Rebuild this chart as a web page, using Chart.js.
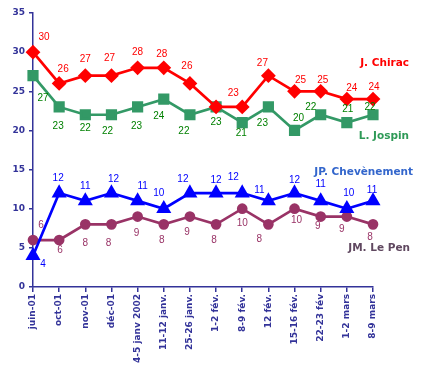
<!DOCTYPE html>
<html>
<head>
<meta charset="utf-8">
<script src="https://cdn.jsdelivr.net/npm/chart.js@4.4.1/dist/chart.umd.min.js"></script>
<style>
  body { margin: 0; background: #fff; }
  #wrap { width: 421px; height: 367px; position: relative; }
</style>
</head>
<body>
<div id="wrap"><canvas id="my-chart"></canvas></div>
<script>
'use strict';

// categories (poll dates)
let pollDates = ['juin-01', 'oct-01', 'nov-01', 'déc-01', '4-5 janv 2002', '11-12 janv.', '25-26 janv.',
  '1-2 fév.', '8-9 fév.', '12 fév.', '15-16 fév.', '22-23 fév', '1-2 mars', '8-9 mars'];

// series values (%)
let chiracVotes = [30, 26, 27, 27, 28, 28, 26, 23, 23, 27, 25, 25, 24, 24];
let jospinVotes = [27, 23, 22, 22, 23, 24, 22, 23, 21, 23, 20, 22, 21, 22];
let chevenementVotes = [4, 12, 11, 12, 11, 10, 12, 12, 12, 11, 12, 11, 10, 11];
let lePenVotes = [6, 6, 8, 8, 9, 8, 9, 8, 10, 8, 10, 9, 9, 8];

// y axis ticks
let yTicks = [0, 5, 10, 15, 20, 25, 30, 35];

const axisColor = '#333399';

// where each value label sits relative to its point [dx, dy] (null = no label)
let chiracLabelPos = [[11,-15],[4,-14],[0,-16],[-2,-17],[0,-16],[-2,-14],[-3,-17],null,[-9,-14],[-6,-12],[6,-11],[2,-11],[5,-11],[1,-12]];
let jospinLabelPos = [[10,23],[-1,19],[0,13],[-4,16],[-1,19],[-5,17],[-6,16],[0,15],[-1,11],[-6,16],[4,-12],[-10,-8],[1,-13],[-3,-8]];
let chevLabelPos = [[10,9],[-1,-15],[0,-15],[2,-14],[5,-15],[-5,-15],[-7,-14],[0,-13],[-9,-16],[-9,-11],[0,-13],[0,-17],[2,-15],[-1,-11]];
let lePenLabelPos = [[8,-15],[1,10],[0,19],[-3,19],[-1,17],[-2,16],[-3,16],[-2,16],[0,15],[-9,15],[2,12],[-3,10],[-5,13],[-3,13]];

// draws the value next to every point, plus the series name on the right
const valueLabels = {
  id: 'valueLabels',
  afterDatasetsDraw(chart) {
    let ctx = chart.ctx;
    let yScale = chart.scales.y;
    ctx.save();
    ctx.textAlign = 'center';
    ctx.textBaseline = 'middle';
    chart.data.datasets.forEach((ds, d) => {
      let meta = chart.getDatasetMeta(d);
      ctx.font = '10px "Liberation Sans", Arial, sans-serif';
      ctx.fillStyle = ds.labelColor;
      meta.data.forEach((pt, i) => {
        let off = ds.labelPos[i];
        if (!off) return;
        ctx.fillText(String(ds.data[i]), pt.x + off[0], pt.y + off[1]);
      });
      // series name
      ctx.font = 'bold 10.5px "DejaVu Sans", Verdana, sans-serif';
      ctx.fillStyle = ds.nameColor;
      ctx.textAlign = 'right';
      ctx.fillText(ds.label, chart.chartArea.right + ds.nameDx, yScale.getPixelForValue(ds.nameAt));
      ctx.textAlign = 'center';
    });
    ctx.restore();
  }
};

let ctx = document.getElementById('my-chart');

let chartObject = {
  type: 'line',
  data: {
    labels: pollDates,
    datasets: [
      {
        label: 'J. Chirac',
        data: chiracVotes,
        borderColor: '#ff0000',
        backgroundColor: '#ff0000',
        pointStyle: 'rectRot',
        pointRadius: 5.5,
        borderWidth: 2.7,
        labelColor: '#ff0000',
        nameColor: '#ff0000',
        labelPos: chiracLabelPos,
        nameAt: 28.6,
        nameDx: 36
      },
      {
        label: 'L. Jospin',
        data: jospinVotes,
        borderColor: '#339966',
        backgroundColor: '#339966',
        pointStyle: 'rect',
        pointRadius: 6,
        borderWidth: 2.7,
        labelColor: '#008000',
        nameColor: '#2e9a57',
        labelPos: jospinLabelPos,
        nameAt: 19.3,
        nameDx: 36
      },
      {
        label: 'JP. Chevènement',
        data: chevenementVotes,
        borderColor: '#0000ff',
        backgroundColor: '#0000ff',
        pointStyle: 'triangle',
        pointRadius: 6,
        borderWidth: 2.7,
        labelColor: '#0000ff',
        nameColor: '#3366cc',
        labelPos: chevLabelPos,
        nameAt: 14.6,
        nameDx: 40
      },
      {
        label: 'JM. Le Pen',
        data: lePenVotes,
        borderColor: '#993366',
        backgroundColor: '#993366',
        pointStyle: 'circle',
        pointRadius: 4,
        borderWidth: 2.7,
        labelColor: '#993366',
        nameColor: '#604860',
        labelPos: lePenLabelPos,
        nameAt: 4.9,
        nameDx: 37
      }
    ]
  },
  options: {
    responsive: true,
    maintainAspectRatio: false,
    animation: false,
    layout: { padding: { left: 0, right: 48, top: 13, bottom: 0 } },
    elements: { line: { tension: 0 } },
    datasets: { line: { clip: false } },
    plugins: {
      legend: { display: false },
      tooltip: { enabled: false }
    },
    scales: {
      x: {
        offset: false,
        grid: { display: true, drawOnChartArea: false, color: axisColor, tickLength: 5, lineWidth: 1.5 },
        border: { color: axisColor, width: 1.5 },
        ticks: {
          autoSkip: false,
          minRotation: 90,
          maxRotation: 90,
          padding: 2,
          color: axisColor,
          font: { family: '"DejaVu Sans", Verdana, sans-serif', size: 9, weight: 'bold' }
        },
        afterFit(scale) { scale.height = 80; }
      },
      y: {
        min: yTicks[0],
        max: yTicks[yTicks.length - 1],
        afterBuildTicks(scale) { scale.ticks = yTicks.map(v => ({ value: v })); },
        grid: { display: true, drawOnChartArea: false, color: axisColor, tickLength: 4, lineWidth: 1.5 },
        border: { color: axisColor, width: 1.5 },
        ticks: {
          padding: 4,
          color: axisColor,
          font: { family: '"DejaVu Sans", Verdana, sans-serif', size: 9, weight: 'bold' }
        },
        afterFit(scale) { scale.width = 33; }
      }
    }
  },
  plugins: [valueLabels]
};

const myChart = new Chart(ctx, chartObject);
</script>
</body>
</html>
